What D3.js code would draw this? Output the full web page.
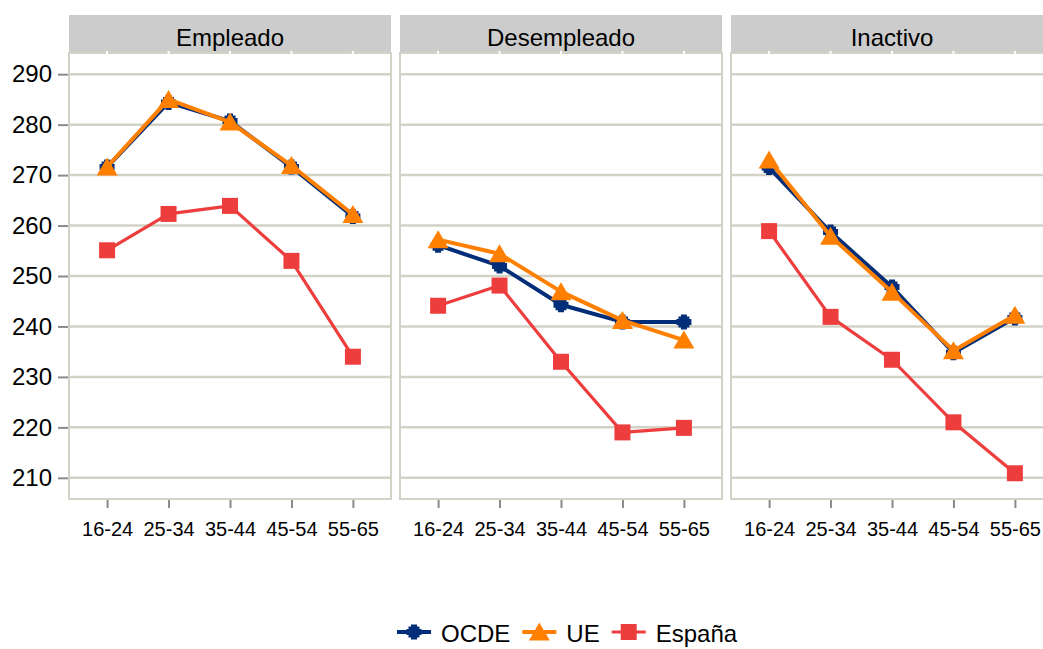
<!DOCTYPE html>
<html>
<head>
<meta charset="utf-8">
<script src="https://cdnjs.cloudflare.com/ajax/libs/d3/7.8.5/d3.min.js"></script>
<style>
  html, body { margin: 0; padding: 0; background: #ffffff; }
  svg { display: block; }
  text { font-family: "Liberation Sans", Arial, sans-serif; fill: #000; }
</style>
</head>
<body>
<svg id="chart" width="1043" height="649"></svg>
<script>
// Age groups on the x axis and the three labour-status panels
const categories = ["16-24", "25-34", "35-44", "45-54", "55-65"];
const panels = ["Empleado", "Desempleado", "Inactivo"];
const yTicks = [210, 220, 230, 240, 250, 260, 270, 280, 290];

// Mean scores per panel (Empleado, Desempleado, Inactivo), one row per panel
const ocde = [
  [271.6, 284.4, 280.7, 271.6, 261.8],
  [256.1, 252.0, 244.3, 240.9, 240.9],
  [271.5, 258.7, 247.8, 234.8, 241.7]
];
const ue = [
  [271.6, 285.0, 280.5, 271.9, 262.2],
  [257.2, 254.4, 246.9, 241.2, 237.3],
  [273.0, 257.9, 246.8, 235.2, 242.2]
];
const espana = [
  [255.1, 262.3, 263.9, 253.0, 234.0],
  [244.1, 248.1, 233.0, 219.0, 219.9],
  [258.9, 241.9, 233.4, 221.0, 210.9]
];

const seriesNames = ["OCDE", "UE", "España"];
const seriesData = [ocde, ue, espana];
const colors = ["#022d79", "#ff8000", "#ee3d3d"];
const lineWidths = [4, 4, 3.2];

// Marker shapes: stepped disc, triangle, square
const markerPaths = [
  "M-3,-7.5L3,-7.5L3,-5.5L5.5,-5.5L5.5,-3L7.5,-3L7.5,3L5.5,3L5.5,5.5L3,5.5L3,7.5L-3,7.5L-3,5.5L-5.5,5.5L-5.5,3L-7.5,3L-7.5,-3L-5.5,-3L-5.5,-5.5L-3,-5.5Z",
  "M0,-9.5L10.5,8.5L-10.5,8.5Z",
  "M-8,-8L8,-8L8,8L-8,8Z"
];

const svg = d3.select("#chart");

// Layout
const panelW = 322, panelStep = 331, panelX0 = 69;
const stripTop = 15, plotTop = 53, plotBottom = 499;
const gridColor = "#d2d2c6";

const y = d3.scaleLinear().domain([205.8, 294.2]).range([plotBottom, plotTop]);

// Left axis
const yAxis = d3.axisLeft(y).tickValues(yTicks).tickSize(10).tickSizeOuter(0).tickPadding(6);
const yg = svg.append("g").attr("transform", `translate(${panelX0 - 1},0)`).call(yAxis);
yg.select(".domain").remove();
yg.selectAll(".tick line").attr("stroke", "#8a8a8a").attr("stroke-width", 2);
yg.selectAll(".tick text").attr("font-size", 24).attr("font-family", "Liberation Sans, Arial, sans-serif").attr("fill", "#000");

panels.forEach((name, pi) => {
  const x0 = panelX0 + pi * panelStep;
  const x = d3.scalePoint().domain(categories).range([x0, x0 + panelW]).padding(0.62);
  const g = svg.append("g");

  // strip header
  g.append("rect").attr("x", x0).attr("y", stripTop).attr("width", panelW).attr("height", plotTop - stripTop)
    .attr("fill", "#cccccc");
  g.append("text").attr("x", x0 + panelW / 2).attr("y", 45.5).attr("text-anchor", "middle")
    .attr("font-size", 24).text(name);

  // panel background + gridlines
  g.append("rect").attr("x", x0).attr("y", plotTop).attr("width", panelW).attr("height", plotBottom - plotTop)
    .attr("fill", "#ffffff");
  g.selectAll("line.grid").data(yTicks).join("line").attr("class", "grid")
    .attr("x1", x0).attr("x2", x0 + panelW)
    .attr("y1", d => y(d)).attr("y2", d => y(d))
    .attr("stroke", gridColor).attr("stroke-width", 2.5);
  g.append("rect").attr("x", x0).attr("y", plotTop).attr("width", panelW).attr("height", plotBottom - plotTop)
    .attr("fill", "none").attr("stroke", gridColor).attr("stroke-width", 2);

  // small white ticks along the top edge
  g.selectAll("line.top").data(categories).join("line").attr("class", "top")
    .attr("x1", d => x(d)).attr("x2", d => x(d))
    .attr("y1", plotTop - 2).attr("y2", plotTop + 1)
    .attr("stroke", "#ffffff").attr("stroke-width", 2);

  // bottom axis
  const xAxis = d3.axisBottom(x).tickSize(8).tickSizeOuter(0).tickPadding(14);
  const xg = g.append("g").attr("transform", `translate(0,${plotBottom + 1})`).call(xAxis);
  xg.select(".domain").remove();
  xg.selectAll(".tick line").attr("stroke", "#8a8a8a").attr("stroke-width", 2);
  xg.selectAll(".tick text").attr("font-size", 20).attr("font-family", "Liberation Sans, Arial, sans-serif").attr("fill", "#000");

  // series
  const line = d3.line().x((d, i) => x(categories[i])).y(d => y(d));
  seriesData.forEach((sd, si) => {
    const vals = sd[pi];
    const sg = g.append("g");
    sg.append("path").datum(vals).attr("d", line).attr("fill", "none")
      .attr("stroke", colors[si]).attr("stroke-width", lineWidths[si]).attr("stroke-linejoin", "round");
    sg.selectAll("path.mk").data(vals).join("path").attr("class", "mk")
      .attr("d", markerPaths[si])
      .attr("transform", (d, i) => `translate(${x(categories[i])},${y(d)})`)
      .attr("fill", colors[si]);
  });
});

// Legend
const legend = svg.append("g");
let lx = 397;
const ly = 632;
seriesNames.forEach((name, si) => {
  legend.append("line").attr("x1", lx).attr("x2", lx + 34).attr("y1", ly).attr("y2", ly)
    .attr("stroke", colors[si]).attr("stroke-width", lineWidths[si]);
  legend.append("path").attr("d", markerPaths[si]).attr("transform", `translate(${lx + 17},${ly})`)
    .attr("fill", colors[si]);
  const t = legend.append("text").attr("x", lx + 44).attr("y", 642).attr("font-size", 24).text(name);
  lx += 44 + t.node().getComputedTextLength() + 12;
});
</script>
</body>
</html>
